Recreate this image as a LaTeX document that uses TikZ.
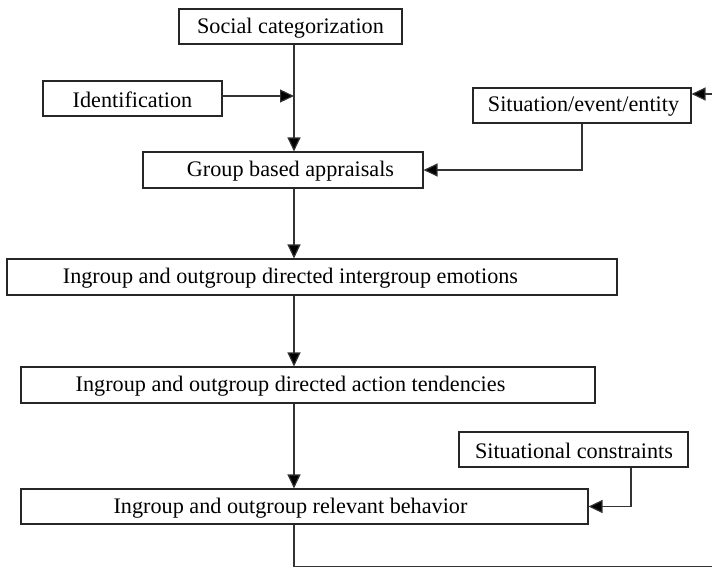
\documentclass[tikz,border=0pt]{standalone}
\usepackage{fontspec}
\setmainfont{Liberation Serif}
\usetikzlibrary{arrows.meta}
\begin{document}
\begin{tikzpicture}[x=1pt,y=-1pt,
  box/.style={draw=black!85,line width=1.1pt,rectangle,inner sep=0pt},
  lbl/.style={inner sep=0pt,font=\fontsize{22.2}{25}\selectfont},
  arr/.style={draw=black!80,line width=1.2pt,-{Triangle[length=14pt,width=13pt,fill=black]}},
  ln/.style={draw=black!80,line width=1.2pt}]
\useasboundingbox (0,0) rectangle (712,568);

% main column of the flow
\coordinate (spine) at (294,0);

% boxes (centre, width, height)
\node[box,minimum width=223pt,minimum height=35pt] (soc) at (290.5,26.5) {};
\node[lbl] (soc-t) at (290.5,28) {Social categorization};

\node[box,minimum width=179pt,minimum height=35pt] (idf) at (132.5,98.5) {};
\node[lbl] (idf-t) at (132.5,100) {Identification};

\node[box,minimum width=218pt,minimum height=35pt] (sit) at (582,105.5) {};
\node[lbl] (sit-t) at (583.5,107) {Situation/event/entity};

\node[box,minimum width=280pt,minimum height=36pt] (grp) at (283,170) {};
\node[lbl] (grp-t) at (290.5,171.5) {Group based appraisals};

\node[box,minimum width=610pt,minimum height=36pt] (emo) at (312,277) {};
\node[lbl] (emo-t) at (290.5,278.5) {Ingroup and outgroup directed intergroup emotions};

\node[box,minimum width=574pt,minimum height=36pt] (act) at (308,385) {};
\node[lbl] (act-t) at (290.5,386.5) {Ingroup and outgroup directed action tendencies};

\node[box,minimum width=229pt,minimum height=35pt] (sc) at (573.5,449.5) {};
\node[lbl] (sc-t) at (574,451) {Situational constraints};

\node[box,minimum width=567pt,minimum height=35pt] (beh) at (304.5,506.5) {};
\node[lbl] (beh-t) at (290.5,508) {Ingroup and outgroup relevant behavior};

% loose ends of the feedback loop
\coordinate (sitin) at (712,94);
\coordinate (loopdown) at (294,566.5);
\coordinate (loopout) at (712,566.5);

% connectors
\draw[arr] (soc.south -| spine) -- (grp.north -| spine);
\draw[arr] (idf.east |- 0,96) -- (spine |- 0,96);
\draw[arr] (sitin) -- (sitin -| sit.east);
\draw[arr] (sit.south) |- (grp.east);
\draw[arr] (grp.south -| spine) -- (emo.north -| spine);
\draw[arr] (emo.south -| spine) -- (act.north -| spine);
\draw[arr] (act.south -| spine) -- (beh.north -| spine);
\draw[arr] (sc.south -| 631,0) |- (beh.east);
\draw[ln] (beh.south -| spine) -- (loopdown) -- (loopout);
\end{tikzpicture}
\end{document}
